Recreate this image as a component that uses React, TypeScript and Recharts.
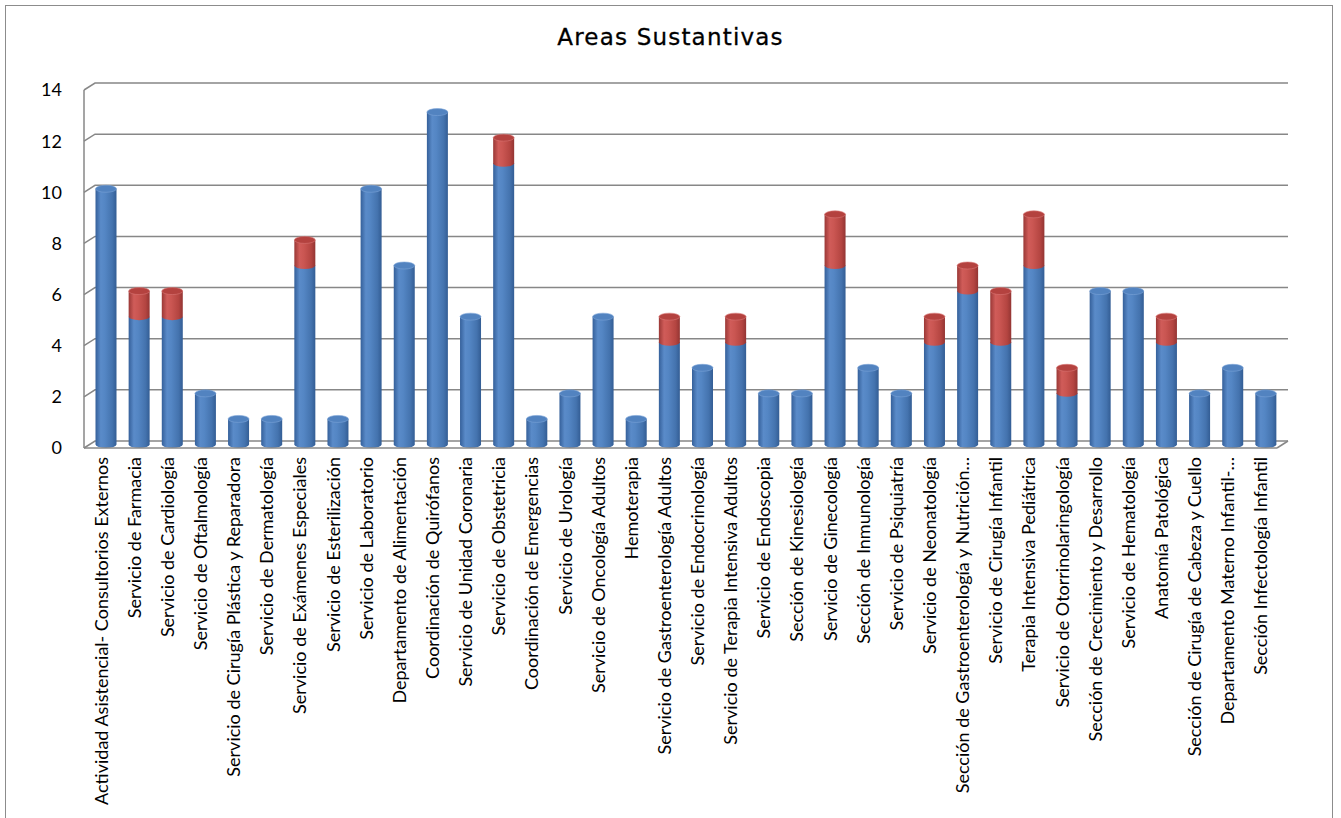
import React from 'react';
import { BarChart, Bar, XAxis, YAxis, CartesianGrid } from 'recharts';

const categories = [
  'Actividad Asistencial- Consultorios Externos',
  'Servicio de Farmacia',
  'Servicio de Cardiología',
  'Servicio de Oftalmología',
  'Servicio de Cirugía Plástica y Reparadora',
  'Servicio de Dermatología',
  'Servicio de Exámenes Especiales',
  'Servicio de Esterilización',
  'Servicio de Laboratorio',
  'Departamento de Alimentación',
  'Coordinación de Quirófanos',
  'Servicio de Unidad Coronaria',
  'Servicio de Obstetricia',
  'Coordinación de Emergencias',
  'Servicio de Urología',
  'Servicio de Oncología Adultos',
  'Hemoterapia',
  'Servicio de Gastroenterología Adultos',
  'Servicio de Endocrinología',
  'Servicio de Terapia Intensiva Adultos',
  'Servicio de Endoscopia',
  'Sección de Kinesiología',
  'Servicio de Ginecología',
  'Sección de Inmunología',
  'Servicio de Psiquiatría',
  'Servicio de Neonatología',
  'Sección de Gastroenterología y Nutrición…',
  'Servicio de Cirugía Infantil',
  'Terapia Intensiva Pediátrica',
  'Servicio de Otorrinolaringología',
  'Sección de Crecimiento y Desarrollo',
  'Servicio de Hematología',
  'Anatomía Patológica',
  'Sección de Cirugía de Cabeza y Cuello',
  'Departamento Materno Infantil-…',
  'Sección Infectología Infantil',
];

const blueValues = [10, 5, 5, 2, 1, 1, 7, 1, 10, 7, 13, 5, 11, 1, 2, 5, 1, 4, 3, 4, 2, 2, 7, 3, 2, 4, 6, 4, 7, 2, 6, 6, 4, 2, 3, 2];
const redValues = [0, 1, 1, 0, 0, 0, 1, 0, 0, 0, 0, 0, 1, 0, 0, 0, 0, 1, 0, 1, 0, 0, 2, 0, 0, 1, 1, 2, 2, 1, 0, 0, 1, 0, 0, 0];

const yTicks = [0, 2, 4, 6, 8, 10, 12, 14];

const data = categories.map((name, i) => ({ name, blue: blueValues[i], red: redValues[i] }));

const DX = 11;
const DY = 7;
const GRID = '#878787';

const Cylinder = (kind: 'blue' | 'red') => (props: any) => {
  const { x, y, width, height, payload } = props;
  if (!height || height <= 0) return <g />;
  const bx = x + DX / 2;
  const by = y - DY / 2;
  const rx = width / 2;
  const ry = 3.5;
  const cx = bx + rx;
  const isTop = kind === 'red' || (payload && payload.red === 0);
  const grad = kind === 'blue' ? 'url(#gBlue)' : 'url(#gRed)';
  const topFill = kind === 'blue' ? '#5283c0' : '#b4423f';
  const topStroke = kind === 'blue' ? '#7aa3d6' : '#d87673';
  const bottomY = by + height;
  return (
    <g>
      <path
        d={`M${bx},${by} L${bx},${bottomY} A${rx},${ry} 0 0 0 ${bx + width},${bottomY} L${bx + width},${by} Z`}
        fill={grad}
      />
      {isTop && (
        <ellipse cx={cx} cy={by} rx={rx} ry={ry} fill={topFill} stroke={topStroke} strokeWidth={0.6} />
      )}
    </g>
  );
};

const gridLine = (p: any) => {
  const { x1, x2, y1, index } = p;
  const isBottom = Math.abs(y1 - 448) < 1;
  return (
    <g key={`gl-${index}-${y1}`}>
      <polyline
        points={`${x1},${y1} ${x1 + DX},${y1 - DY} ${x2 + DX},${y1 - DY}`}
        fill="none"
        stroke={GRID}
        strokeWidth={1.5}
      />
      {isBottom && (
        <line x1={x2} y1={y1} x2={x2 + DX} y2={y1 - DY} stroke={GRID} strokeWidth={1.5} />
      )}
    </g>
  );
};

const CategoryTick = (props: any) => {
  const { x, y, payload } = props;
  return (
    <text
      x={x}
      y={y}
      transform={`rotate(-90, ${x}, ${y})`}
      textAnchor="end"
      dominantBaseline="central"
      fontFamily="Lato, 'Open Sans', sans-serif"
      fontSize={18}
      fill="#000"
    >
      {payload.value}
    </text>
  );
};

export default function App() {
  return (
    <div style={{ position: 'absolute', left: 0, top: 0, width: 1341, height: 818, background: '#fff', overflow: 'hidden' }}>
      <svg width={0} height={0} style={{ position: 'absolute' }}>
        <defs>
          <linearGradient id="gBlue" x1="0" y1="0" x2="1" y2="0">
            <stop offset="0%" stopColor="#35609a" />
            <stop offset="25%" stopColor="#5a8bc9" />
            <stop offset="45%" stopColor="#5486c4" />
            <stop offset="80%" stopColor="#4473ae" />
            <stop offset="100%" stopColor="#335d94" />
          </linearGradient>
          <linearGradient id="gRed" x1="0" y1="0" x2="1" y2="0">
            <stop offset="0%" stopColor="#9a3836" />
            <stop offset="25%" stopColor="#d05c59" />
            <stop offset="45%" stopColor="#ca5652" />
            <stop offset="80%" stopColor="#b44541" />
            <stop offset="100%" stopColor="#933533" />
          </linearGradient>
        </defs>
      </svg>
      <div
        style={{
          position: 'absolute', left: 5, top: 5, width: 1328, height: 820,
          border: '1.5px solid #8c8c8c', boxSizing: 'border-box',
        }}
      />
      <div
        style={{
          position: 'absolute', left: 0, width: 1341, top: 24, textAlign: 'center',
          fontFamily: "'DejaVu Sans', Verdana, sans-serif", fontSize: 23, letterSpacing: 1.2,
          color: '#000', WebkitTextStroke: '0.3px #000',
        }}
      >
        Areas Sustantivas
      </div>
      <div style={{ position: 'absolute', left: 0, top: 0 }}>
        <BarChart
          width={1341}
          height={818}
          data={data}
          margin={{ top: 90, right: 64, bottom: 0, left: 0 }}
          barSize={21}
        >
          <CartesianGrid vertical={false} horizontal={gridLine} />
          <XAxis
            dataKey="name"
            interval={0}
            height={370}
            tick={CategoryTick}
            tickLine={false}
            tickSize={0}
            tickMargin={9}
            axisLine={{ stroke: GRID, strokeWidth: 1.5 }}
          />
          <YAxis
            width={84}
            domain={[0, 14]}
            ticks={yTicks}
            interval={0}
            tickLine={false}
            tickSize={0}
            tickMargin={22}
            axisLine={{ stroke: GRID, strokeWidth: 1.5 }}
            tick={{ fontFamily: "Lato, 'Open Sans', sans-serif", fontSize: 18, fill: '#000' }}
          />
          <Bar dataKey="blue" stackId="a" isAnimationActive={false} shape={Cylinder('blue')} />
          <Bar dataKey="red" stackId="a" isAnimationActive={false} shape={Cylinder('red')} />
        </BarChart>
      </div>
    </div>
  );
}
